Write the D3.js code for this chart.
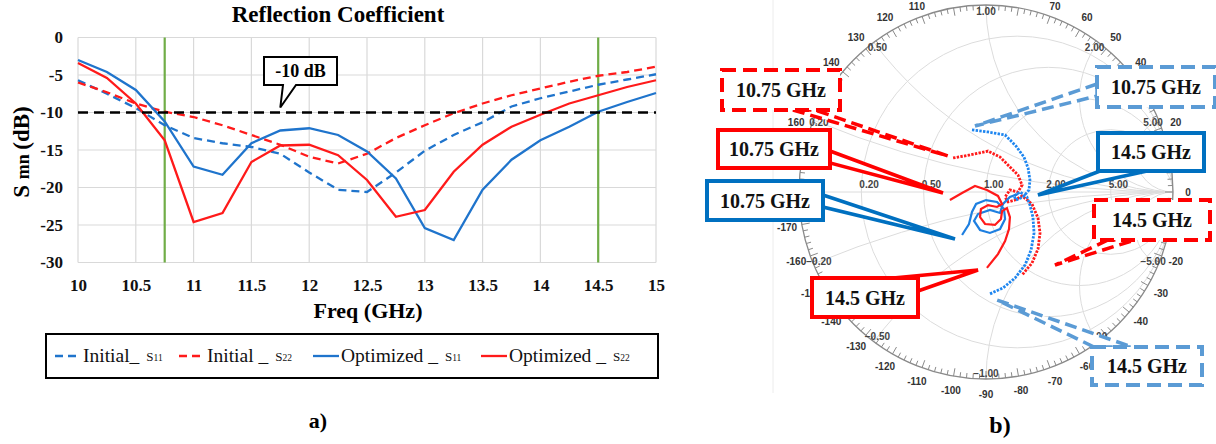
<!DOCTYPE html>
<html><head><meta charset="utf-8">
<script src="https://cdn.jsdelivr.net/npm/d3@7"></script>
<style>body{margin:0;background:#fff}svg{display:block}</style>
</head><body>
<svg id="c" width="1216" height="444"></svg>
<script>
// ---------------- data: reflection coefficient (dB) ----------------
const freqs = [10,10.25,10.5,10.75,11,11.25,11.5,11.75,12,12.25,12.5,12.75,13,13.25,13.5,13.75,14,14.25,14.5,14.75,15];
const initialS11   = [-5.7,-7.5,-9.4,-11.7,-13.4,-14.1,-14.6,-15.5,-18.0,-20.3,-20.6,-18.0,-15.1,-13.0,-11.3,-9.2,-8.1,-7.2,-6.3,-5.6,-4.9];
const initialS22   = [-6.0,-7.3,-8.8,-9.9,-10.6,-11.7,-13.0,-14.3,-15.9,-16.8,-15.5,-13.4,-11.7,-10.1,-8.8,-7.7,-6.8,-5.9,-5.1,-4.6,-3.9];
const optimizedS11 = [-3.0,-4.6,-7.0,-11.2,-17.2,-18.3,-14.1,-12.4,-12.1,-13.0,-15.2,-18.8,-25.4,-27.0,-20.3,-16.3,-13.7,-11.9,-9.9,-8.6,-7.4];
const optimizedS22 = [-3.4,-5.4,-8.8,-13.7,-24.6,-23.4,-16.6,-14.4,-14.3,-15.7,-19.0,-23.9,-23.0,-17.9,-14.3,-11.9,-10.3,-8.8,-7.7,-6.6,-5.7];
const xTicks = [10,10.5,11,11.5,12,12.5,13,13.5,14,14.5,15];
const yTicks = [0,-5,-10,-15,-20,-25,-30];
const markerFreqs = [10.75,14.5];
const thresholdDb = -10;

// ---------------- data: Smith chart (reflection coefficient, re / im), 10.75 -> 14.5 GHz ----------------
const smithInitS11Re = [-0.075,0.011,0.102,0.160,0.203,0.225,0.235,0.230,0.198,0.160,0.150,0.182,0.219,0.235,0.251,0.257,0.241,0.209,0.155,0.091,0.021];
const smithInitS11Im = [0.332,0.321,0.305,0.246,0.187,0.128,0.064,0.011,-0.027,-0.043,-0.021,0.000,-0.027,-0.070,-0.134,-0.219,-0.310,-0.390,-0.460,-0.513,-0.545];
const smithInitS22Re = [-0.176,-0.086,0.011,0.075,0.128,0.171,0.193,0.171,0.128,0.102,0.118,0.155,0.193,0.246,0.278,0.289,0.278,0.246,0.193];
const smithInitS22Im = [0.182,0.198,0.219,0.187,0.134,0.091,0.037,0.000,0.011,-0.027,-0.053,-0.043,-0.021,-0.064,-0.139,-0.219,-0.305,-0.380,-0.444];
const smithOptS11Re = [-0.128,-0.091,-0.075,-0.053,0.000,0.059,0.096,0.102,0.075,0.021,-0.032,-0.064,-0.043,0.021,0.075,0.091,0.128,0.171];
const smithOptS11Im = [-0.230,-0.171,-0.107,-0.064,-0.043,-0.053,-0.091,-0.144,-0.198,-0.219,-0.203,-0.155,-0.118,-0.096,-0.112,-0.064,-0.027,-0.011];
const smithOptS22Re = [-0.193,-0.128,-0.059,0.005,0.064,0.086,0.059,0.011,-0.027,-0.032,-0.005,0.048,0.080,0.086,0.112,0.128,0.123,0.102,0.064,0.005];
const smithOptS22Im = [-0.043,-0.005,0.032,0.011,-0.021,-0.064,-0.080,-0.070,-0.091,-0.134,-0.171,-0.176,-0.144,-0.102,-0.086,-0.134,-0.198,-0.262,-0.332,-0.406];
const resistanceCircles = [0.2,0.5,1,2,5];
const reactanceArcs = [0.2,0.5,1,2,5];
const angleLabels = d3.range(-170,181,10);

// ---------------- styles ----------------
const serif = "'Liberation Serif','DejaVu Serif',serif";
const sans = "'Liberation Sans',Arial,sans-serif";
const BLUE = "#1F74CC", RED = "#FF1A1A", GREEN = "#70AD47";

const svg = d3.select("#c");

// ================= a) Reflection coefficient =================
const x = d3.scaleLinear().domain([10,15]).range([78,656]);
const y = d3.scaleLinear().domain([-30,0]).range([262.5,37.5]);
const A = svg.append("g");

A.append("g").selectAll("line.vg").data(xTicks).join("line").attr("class","vg")
  .attr("x1",d=>x(d)).attr("x2",d=>x(d)).attr("y1",y(0)).attr("y2",y(-30))
  .attr("stroke","#d9d9d9").attr("stroke-width",1.2);
A.append("g").selectAll("line.hg").data(yTicks).join("line").attr("class","hg")
  .attr("x1",x(10)).attr("x2",x(15)).attr("y1",d=>y(d)).attr("y2",d=>y(d))
  .attr("stroke","#d9d9d9").attr("stroke-width",1.2);

const xAxis = A.append("g").attr("transform",`translate(0,${y(-30)})`)
  .call(d3.axisBottom(x).tickValues(xTicks).tickSize(0).tickPadding(16).tickFormat(d=>String(d)));
const yAxis = A.append("g").attr("transform",`translate(${x(10)},0)`)
  .call(d3.axisLeft(y).tickValues(yTicks).tickSize(0).tickPadding(15).tickFormat(d=>String(d)));
[xAxis,yAxis].forEach(g=>{
  g.select(".domain").remove();
  g.selectAll("text").attr("font-family",serif).attr("font-weight","bold").attr("font-size",17).attr("fill","#111");
});

// green band markers
A.append("g").selectAll("line").data(markerFreqs).join("line")
  .attr("x1",d=>x(d)).attr("x2",d=>x(d)).attr("y1",y(0)).attr("y2",y(-30))
  .attr("stroke",GREEN).attr("stroke-width",2.2);

const series = [
  {vals:initialS11,   color:BLUE, dash:"8,5"},
  {vals:initialS22,   color:RED,  dash:"8,5"},
  {vals:optimizedS11, color:BLUE, dash:null},
  {vals:optimizedS22, color:RED,  dash:null}
];
const line = d3.line().x((d,i)=>x(freqs[i])).y(d=>y(d));
A.append("g").selectAll("path").data(series).join("path")
  .attr("d",d=>line(d.vals)).attr("fill","none")
  .attr("stroke",d=>d.color).attr("stroke-width",2.3)
  .attr("stroke-dasharray",d=>d.dash);

// -10 dB threshold line
A.append("line").attr("x1",x(10)).attr("x2",x(15)).attr("y1",y(thresholdDb)).attr("y2",y(thresholdDb))
  .attr("stroke","#000").attr("stroke-width",2.5).attr("stroke-dasharray","10,6");

// -10 dB callout
const tipX = x(11.75), tipY = y(thresholdDb)-5;
A.append("path").attr("d",`M264,57H337V85H296L${tipX},${tipY}L283,85H264Z`)
  .attr("fill","#fff").attr("stroke","#000").attr("stroke-width",2);
A.append("text").attr("x",300.5).attr("y",77).attr("text-anchor","middle")
  .attr("font-family",serif).attr("font-weight","bold").attr("font-size",18).text("-10 dB");

// titles
A.append("text").attr("x",338).attr("y",22).attr("text-anchor","middle")
  .attr("font-family",serif).attr("font-weight","bold").attr("font-size",23).text("Reflection Coefficient");
A.append("text").attr("x",368).attr("y",318).attr("text-anchor","middle")
  .attr("font-family",serif).attr("font-weight","bold").attr("font-size",22).text("Freq (GHz)");
const yl = A.append("text").attr("transform","translate(29,152) rotate(-90)").attr("text-anchor","middle")
  .attr("font-family",serif).attr("font-weight","bold").attr("font-size",23);
yl.append("tspan").text("S ");
yl.append("tspan").attr("font-size",18).text("mn ");
yl.append("tspan").text("(dB)");

// legend
A.append("rect").attr("x",46).attr("y",334).attr("width",612).attr("height",44)
  .attr("fill","#fff").attr("stroke","#000").attr("stroke-width",2);
const legendItems = [
  {name:"Initial_",     sub:"11", color:BLUE, dash:"8,5", x0:55},
  {name:"Initial _",    sub:"22", color:RED,  dash:"8,5", x0:179},
  {name:"Optimized _",  sub:"11", color:BLUE, dash:null,  x0:313},
  {name:"Optimized _",  sub:"22", color:RED,  dash:null,  x0:481}
];
const lg = A.append("g").selectAll("g").data(legendItems).join("g");
lg.append("line").attr("x1",d=>d.x0).attr("x2",d=>d.x0+26).attr("y1",356).attr("y2",356)
  .attr("stroke",d=>d.color).attr("stroke-width",2.3).attr("stroke-dasharray",d=>d.dash);
lg.append("text").attr("x",d=>d.x0+28).attr("y",362).attr("font-family",serif).attr("font-size",19.5)
  .attr("fill","#111").text(d=>d.name)
  .each(function(d){ d.w = this.getComputedTextLength(); });
lg.append("text").attr("x",d=>d.x0+28+d.w+7).attr("y",361).attr("font-family",serif).attr("font-size",13)
  .attr("fill","#111").text(d=>"S").append("tspan").attr("font-size",9.5).text(d=>d.sub);

A.append("text").attr("x",318).attr("y",428).attr("text-anchor","middle")
  .attr("font-family",serif).attr("font-weight","bold").attr("font-size",22).text("a)");

// ================= b) Smith chart =================
const cx = 986, cy = 192, R = 187;
const sx = d3.scaleLinear().domain([-1,1]).range([cx-R,cx+R]);
const sy = d3.scaleLinear().domain([-1,1]).range([cy+R,cy-R]);
const k = sx(1)-sx(0);

// callouts (annotation layout)
const callouts = [
  {label:"10.75 GHz", color:"#FF0000", dash:true,  box:[722,70,118,40],  base:[[793,110],[815,110]],  tip:[948,156]},
  {label:"10.75 GHz", color:"#FF0000", dash:false, box:[718,130,112,38], base:[[830,151],[830,163]],  tip:[943,193]},
  {label:"10.75 GHz", color:"#0070C0", dash:false, box:[707,181,116,39], base:[[823,195],[823,207]],  tip:[955,239]},
  {label:"14.5 GHz",  color:"#FF0000", dash:false, box:[812,278,106,39], base:[[893,278],[918,291]],  tip:[978,270]},
  {label:"10.75 GHz", color:"#5B9BD5", dash:true,  box:[1097,67,118,40], base:[[1097,84],[1097,96]],  tip:[975,126]},
  {label:"14.5 GHz",  color:"#0070C0", dash:false, box:[1098,133,106,38],base:[[1100,171],[1147,171]],tip:[1038,195]},
  {label:"14.5 GHz",  color:"#FF0000", dash:true,  box:[1094,200,116,40],base:[[1108,240],[1135,240]],tip:[1055,265]},
  {label:"14.5 GHz",  color:"#5B9BD5", dash:true,  box:[1092,347,110,38],base:[[1094,347],[1132,347]],tip:[997,300]}
];
const hidden = (px,py)=> py < 0 || callouts.some(c=>px>c.box[0]+2 && px<c.box[0]+c.box[2]-2 && py>c.box[1]+2 && py<c.box[1]+c.box[3]-2);

const B = svg.append("g");
B.append("line").attr("x1",773).attr("x2",773).attr("y1",0).attr("y2",393).attr("stroke","#ececec");
svg.append("defs").append("clipPath").attr("id","sclip").append("circle").attr("cx",cx).attr("cy",cy).attr("r",R);
const grid = B.append("g").attr("clip-path","url(#sclip)").attr("fill","none").attr("stroke","#dcdcdc").attr("stroke-width",1);
grid.selectAll("circle.r").data(resistanceCircles).join("circle").attr("class","r")
  .attr("cx",r=>sx(r/(1+r))).attr("cy",sy(0)).attr("r",r=>k/(1+r));
const xs = reactanceArcs.flatMap(v=>[v,-v]);
grid.selectAll("circle.x").data(xs).join("circle").attr("class","x")
  .attr("cx",sx(1)).attr("cy",v=>sy(1/v)).attr("r",v=>k/Math.abs(v));
grid.append("line").attr("x1",sx(-1)).attr("x2",sx(1)).attr("y1",sy(0)).attr("y2",sy(0));

// outer ring with ticks
B.append("circle").attr("cx",cx).attr("cy",cy).attr("r",R).attr("fill","none").attr("stroke","#8a8a8a").attr("stroke-width",1.3);
const tickDeg = d3.range(-180,180,2);
B.append("g").selectAll("line").data(tickDeg).join("line")
  .each(function(d){
    const a = d*Math.PI/180, l = (d%10===0)?8:5;
    d3.select(this).attr("x1",cx+R*Math.cos(a)).attr("y1",cy-R*Math.sin(a))
      .attr("x2",cx+(R-l)*Math.cos(a)).attr("y2",cy-(R-l)*Math.sin(a));
  }).attr("stroke","#8a8a8a").attr("stroke-width",1);
const angPos = d=>[cx+(R+15)*Math.cos(d*Math.PI/180), cy-(R+15)*Math.sin(d*Math.PI/180)];
B.append("g").selectAll("text").data(angleLabels.filter(d=>!hidden(...angPos(d)))).join("text")
  .attr("x",d=>angPos(d)[0]).attr("y",d=>Math.max(angPos(d)[1],6))
  .attr("dy","0.35em").attr("text-anchor","middle").attr("font-family",sans).attr("font-weight","bold")
  .attr("font-size",10).attr("fill","#333").text(d=>String(d));

const f2 = d3.format(".2f");
B.append("g").selectAll("text").data(resistanceCircles).join("text")
  .attr("x",r=>sx((r-1)/(r+1))-2).attr("y",sy(0)-4).attr("font-family",sans).attr("font-weight","bold")
  .attr("font-size",10).attr("fill","#444").text(r=>f2(r));
B.append("g").selectAll("text").data(xs).join("text")
  .each(function(v){
    const th = Math.atan2(2*v, v*v-1);
    d3.select(this).attr("x",cx+(R-6)*Math.cos(th)).attr("y",cy-(R-6)*Math.sin(th));
  })
  .attr("dy","0.35em").attr("text-anchor","middle").attr("font-family",sans).attr("font-weight","bold")
  .attr("font-size",10).attr("fill","#444").text(v=>f2(v));

// traces
const zip = (re,im)=>re.map((r,i)=>[r,im[i]]);
const sline = d3.line().x(d=>sx(d[0])).y(d=>sy(d[1]));
const traces = [
  {pts:zip(smithInitS22Re,smithInitS22Im), color:"#FF1A1A", dash:"2.4,1.3", w:2.8},
  {pts:zip(smithInitS11Re,smithInitS11Im), color:"#1E86F0", dash:"2.4,1.3", w:2.8},
  {pts:zip(smithOptS11Re,smithOptS11Im),   color:"#1E7FE0", dash:null, w:2.2},
  {pts:zip(smithOptS22Re,smithOptS22Im),   color:"#FF1A1A", dash:null, w:2.2}
];
B.append("g").selectAll("path").data(traces).join("path")
  .attr("d",d=>sline(d.pts)).attr("fill","none").attr("stroke",d=>d.color)
  .attr("stroke-width",d=>d.w).attr("stroke-dasharray",d=>d.dash);

const cg = B.append("g").selectAll("g").data(callouts).join("g");
cg.append("path").attr("d",d=>`M${d.base[0][0]},${d.base[0][1]}L${d.tip[0]},${d.tip[1]}L${d.base[1][0]},${d.base[1][1]}Z`)
  .attr("fill","#fff").attr("stroke",d=>d.color).attr("stroke-width",3.5)
  .attr("stroke-dasharray",d=>d.dash?"12,6":null).attr("stroke-linejoin","miter");
cg.append("rect").attr("x",d=>d.box[0]).attr("y",d=>d.box[1]).attr("width",d=>d.box[2]).attr("height",d=>d.box[3])
  .attr("fill","#fff").attr("stroke",d=>d.color).attr("stroke-width",4)
  .attr("stroke-dasharray",d=>d.dash?"14,7":null);
cg.append("text").attr("x",d=>d.box[0]+d.box[2]/2).attr("y",d=>d.box[1]+d.box[3]/2).attr("dy","0.35em")
  .attr("text-anchor","middle").attr("font-family",serif).attr("font-weight","bold").attr("font-size",20)
  .attr("fill","#111").text(d=>d.label);

B.append("text").attr("x",1000).attr("y",433).attr("text-anchor","middle")
  .attr("font-family",serif).attr("font-weight","bold").attr("font-size",24).text("b)");
</script>
</body></html>
